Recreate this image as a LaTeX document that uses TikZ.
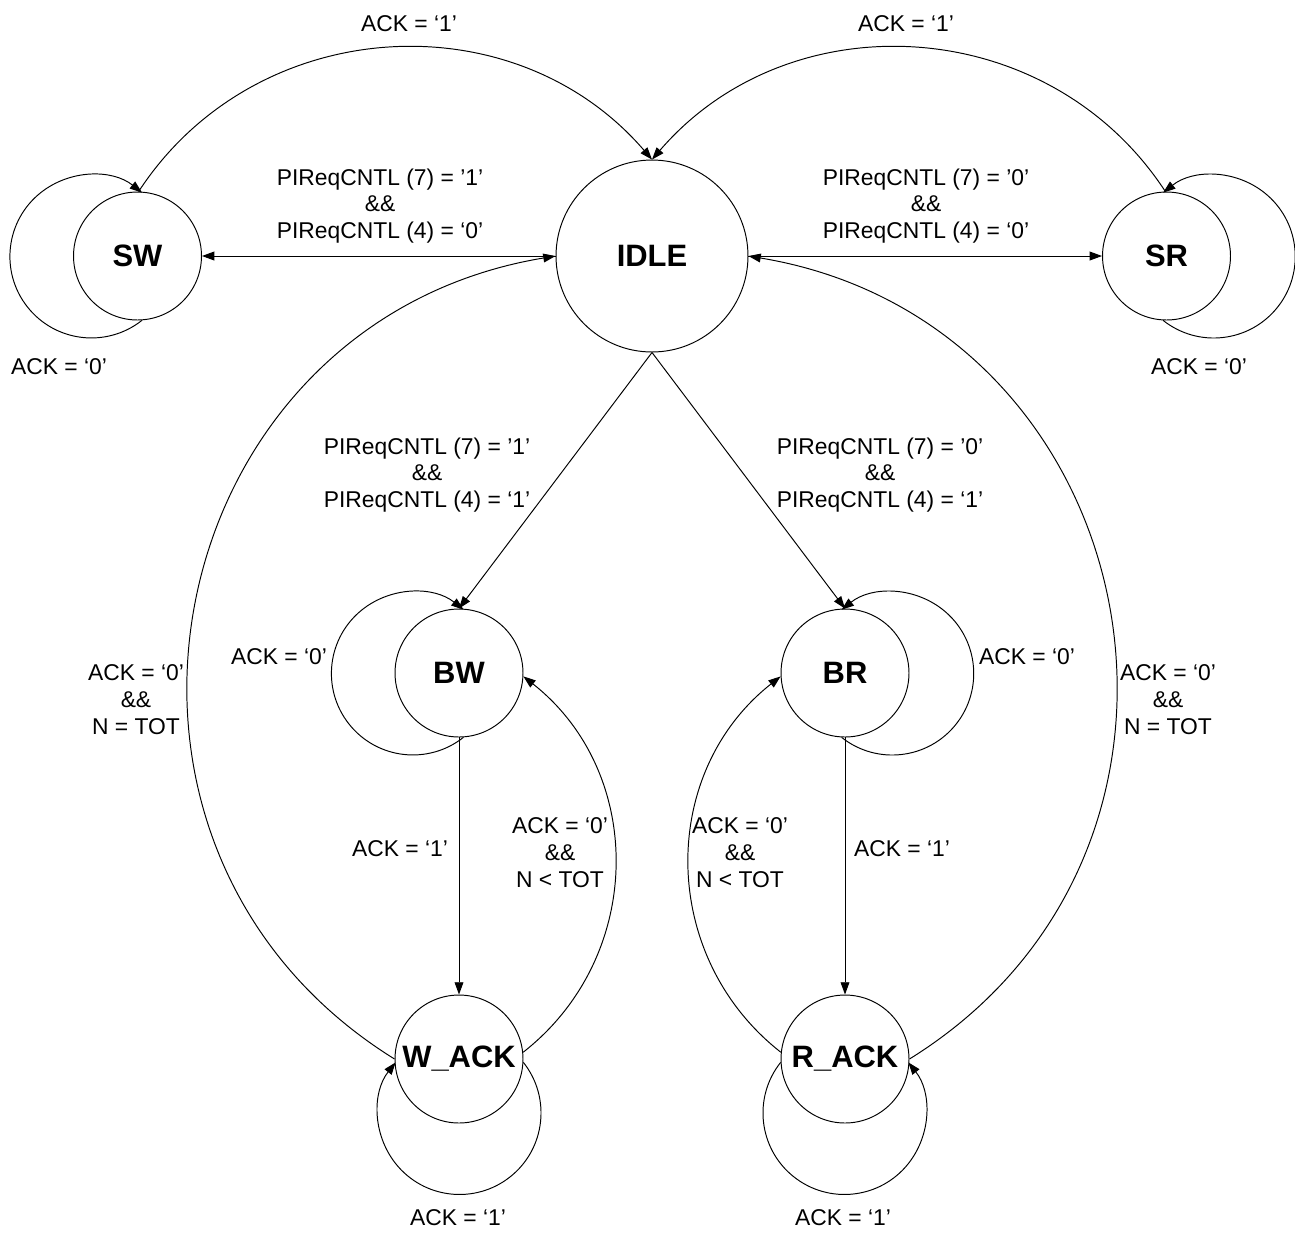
\documentclass[tikz,border=0pt]{standalone}
\usepackage{fontspec}
\setmainfont{Liberation Sans}
\usetikzlibrary{arrows.meta}
\begin{document}
\begin{tikzpicture}[x=0.02cm, y=-0.02cm,
  line width=0.55pt,
  state/.style={circle, draw, fill=white, minimum size=2.56cm, inner sep=0pt,
    font=\fontsize{17.6pt}{20pt}\selectfont\bfseries},
  lbl/.style={align=center, inner sep=0pt, font=\fontsize{13pt}{15.3pt}\selectfont},
  tr/.style={-{Triangle[length=7pt,width=5pt]}},
]
\useasboundingbox (0,0) rectangle (1295,1232);

% states
\node[state, minimum size=3.84cm] (idle) at (652,256) {IDLE};
\node[state] (sw)   at (137.5,256) {SW};
\node[state] (sr)   at (1166.5,256) {SR};
\node[state] (bw)   at (459,673) {BW};
\node[state] (br)   at (845,673) {BR};
\node[state] (wack) at (459,1059) {W\_ACK};
\node[state] (rack) at (845,1059) {R\_ACK};

% self loops
\draw[tr] (sw.-86.8) arc[start angle=-51.6, end angle=-308.4, radius=1.63cm];
\draw[tr] (sr.-93.2) arc[start angle=-128.4, end angle=128.4, radius=1.63cm];
\draw[tr] (bw.-86.8) arc[start angle=-51.6, end angle=-308.4, radius=1.63cm];
\draw[tr] (br.-93.2) arc[start angle=-128.4, end angle=128.4, radius=1.63cm];
\draw[tr] (wack.-3.2) arc[start angle=38.4, end angle=-218.4, radius=1.63cm];
\draw[tr] (rack.183.2) arc[start angle=141.6, end angle=398.4, radius=1.63cm];

% returns to IDLE over the top
\draw[tr] (sw.89) .. controls (254.8,13.5) and (513.3,-1.7) .. (idle.north);
\draw[tr] (sr.91) .. controls (1049.2,13.5) and (790.7,-1.7) .. (idle.north);

% IDLE to the side states
\draw[tr] (idle.west) -- (sw.east);
\draw[tr] (idle.east) -- (sr.west);

% IDLE to the burst states
\draw[tr] (idle.south) -- (bw.north);
\draw[tr] (idle.south) -- (br.north);

% burst to acknowledge
\draw[tr] (bw.south) -- (wack.north);
\draw[tr] (br.south) -- (rack.north);

% acknowledge back to burst
\draw[tr] (wack.6) .. controls (645.2,956.7) and (645.8,772.8) .. (bw.-3.5);
\draw[tr] (rack.174) .. controls (658.8,956.7) and (658.2,772.8) .. (br.183.5);

% acknowledge back to IDLE
\draw[tr] (wack.180) .. controls (50.8,845.7) and (156.6,322.1) .. (idle.west);
\draw[tr] (rack.0) .. controls (1253.2,845.7) and (1147.4,322.1) .. (idle.east);

% transition labels
\node[lbl] (t1)  at (409,24)   {ACK = ‘1’};
\node[lbl] (t2)  at (906,24)   {ACK = ‘1’};
\node[lbl] (t3)  at (380,206)  {PIReqCNTL (7) = ’1’\\\&\&\\PIReqCNTL (4) = ‘0’};
\node[lbl] (t4)  at (926,206)  {PIReqCNTL (7) = ’0’\\\&\&\\PIReqCNTL (4) = ‘0’};
\node[lbl] (t5)  at (59,367)   {ACK = ‘0’};
\node[lbl] (t6)  at (1199,367) {ACK = ‘0’};
\node[lbl] (t7)  at (427,475)  {PIReqCNTL (7) = ’1’\\\&\&\\PIReqCNTL (4) = ‘1’};
\node[lbl] (t8)  at (880,475)  {PIReqCNTL (7) = ’0’\\\&\&\\PIReqCNTL (4) = ‘1’};
\node[lbl] (t9)  at (279,657)  {ACK = ‘0’};
\node[lbl] (t10) at (1027,657) {ACK = ‘0’};
\node[lbl] (t11) at (136,700)  {ACK = ‘0’\\\&\&\\N = TOT};
\node[lbl] (t12) at (1168,700) {ACK = ‘0’\\\&\&\\N = TOT};
\node[lbl] (t13) at (400,849)  {ACK = ‘1’};
\node[lbl] (t14) at (902,849)  {ACK = ‘1’};
\node[lbl] (t15) at (560,853)  {ACK = ‘0’\\\&\&\\N < TOT};
\node[lbl] (t16) at (740,853)  {ACK = ‘0’\\\&\&\\N < TOT};
\node[lbl] (t17) at (458,1218) {ACK = ‘1’};
\node[lbl] (t18) at (843,1218) {ACK = ‘1’};
\end{tikzpicture}
\end{document}
